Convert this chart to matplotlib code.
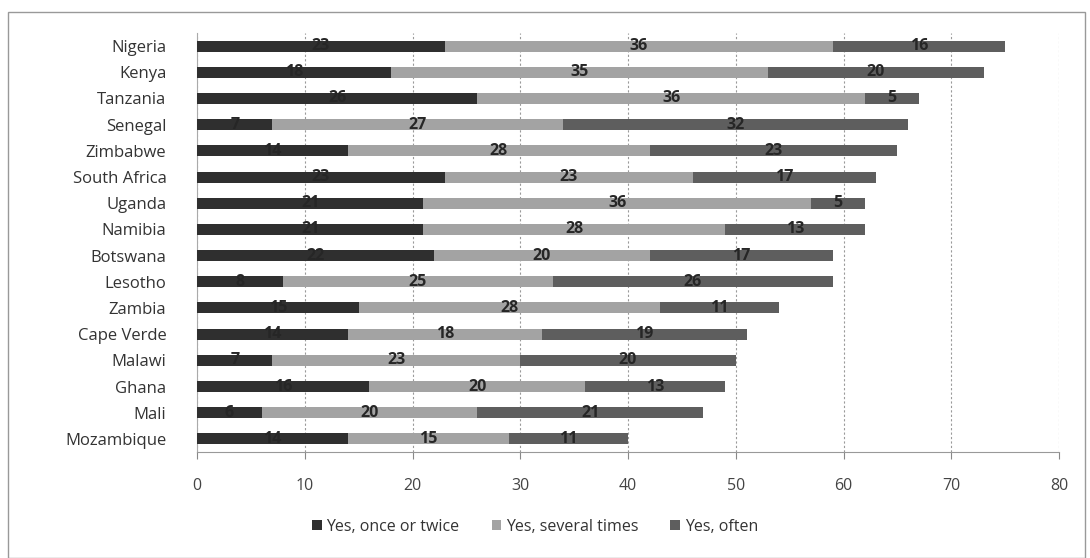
import matplotlib
matplotlib.use("Agg")
import matplotlib.pyplot as plt
from matplotlib.patches import Rectangle
import numpy as np

countries = ["Nigeria", "Kenya", "Tanzania", "Senegal", "Zimbabwe", "South Africa",
             "Uganda", "Namibia", "Botswana", "Lesotho", "Zambia", "Cape Verde",
             "Malawi", "Ghana", "Mali", "Mozambique"]
once_twice = [23, 18, 26, 7, 14, 23, 21, 21, 22, 8, 15, 14, 7, 16, 6, 14]
several = [36, 35, 36, 27, 28, 23, 36, 28, 20, 25, 28, 18, 23, 20, 20, 15]
often = [16, 20, 5, 32, 23, 17, 5, 13, 17, 26, 11, 19, 20, 13, 21, 11]
series_names = ["Yes, once or twice", "Yes, several times", "Yes, often"]
colors = ["#2f2f2f", "#a3a3a3", "#5e5e5e"]
xticks = [0, 10, 20, 30, 40, 50, 60, 70, 80]

plt.rcParams['font.family'] = ['Open Sans', 'DejaVu Sans']

fig = plt.figure(figsize=(10.9, 5.58), dpi=100)
ax = fig.add_axes([197/1090, 1-452/558, (1059-197)/1090, (452-33)/558])

y = np.arange(len(countries))
left = np.zeros(len(countries))
for vals, name, col in zip([once_twice, several, often], series_names, colors):
    vals = np.array(vals, dtype=float)
    ax.barh(y, vals, left=left, height=0.42, color=col, label=name, zorder=3)
    for yi, l, v in zip(y, left, vals):
        ax.text(l + v/2, yi, f"{int(v)}", ha="center", va="center",
                fontsize=11.5, fontweight="bold", color="#262626", zorder=4)
    left += vals

ax.set_ylim(len(countries) - 0.5, -0.5)
ax.set_xlim(0, 80)
ax.set_xticks(xticks)
ax.set_xticklabels([str(t) for t in xticks], fontsize=11.5, color="#444444")
ax.set_yticks(y)
ax.set_yticklabels(countries, fontsize=12, color="#333333")
ax.tick_params(axis="y", length=0, pad=22)
ax.tick_params(axis="x", length=5, pad=14, color="#888888")
ax.xaxis.grid(True, linestyle=(0, (2, 2)), color="#9a9a9a", linewidth=0.8, zorder=0)
for s in ["top", "right"]:
    ax.spines[s].set_visible(False)
ax.spines["left"].set_color("#aaaaaa")
ax.spines["bottom"].set_color("#999999")

ax.legend(loc="center", bbox_to_anchor=(535/1090, 1-527/558), bbox_transform=fig.transFigure,
          ncol=3, frameon=False, fontsize=11.5, handlelength=0.6, handleheight=0.6,
          handletextpad=0.3, columnspacing=2.0, labelcolor="#333333")

fig.patches.append(Rectangle((8/1090, 0.0), (1085-8)/1090, 1-12/558, transform=fig.transFigure,
                             fill=False, edgecolor="#999999", linewidth=1.0))

fig.savefig("out.png", dpi=100, facecolor="white")
